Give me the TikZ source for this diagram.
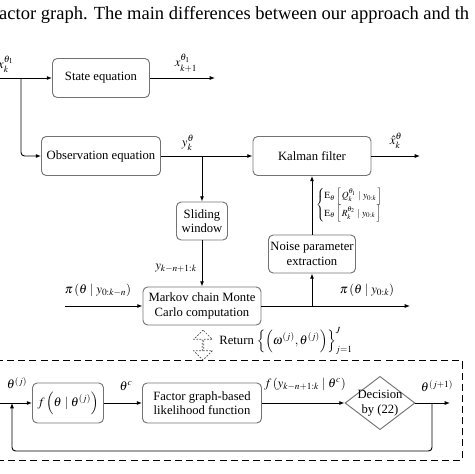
\documentclass[tikz,border=0pt]{standalone}
\usepackage{amsmath}
\usepackage{amssymb}
\usepackage{mathptmx}
\usepackage[no-math]{fontspec}
\setmainfont{Liberation Serif}
\usetikzlibrary{shapes.geometric,shapes.arrows,arrows.meta}

\begin{document}
\begin{tikzpicture}[x=0.03cm, y=-0.03cm, >={Latex[length=4.5pt,width=3.5pt]},
    font=\fontsize{10.8}{12.5}\selectfont]
    \tikzset{Block/.style={draw=black!55, line width=0.8pt, rounded corners=4pt, align=center, inner sep=1pt},
      Line/.style={line width=0.8pt}}
    \useasboundingbox (0,0) rectangle (474,474);
    \node[anchor=base west, inner sep=0, font=\fontsize{15.8}{17}\selectfont] (caption) at (-1,19) {actor graph. The main differences between our approach and th};
    \node[Block, minimum width=2.91cm, minimum height=1.17cm] (state) at (101,78) {State equation};
    \node[Block, minimum width=3.57cm, minimum height=1.17cm] (obs) at (101,156) {Observation equation};
    \node[Block, minimum width=3.54cm, minimum height=1.17cm] (kalman) at (312,156) {Kalman filter};
    \node[Block, minimum width=1.53cm, minimum height=1.14cm] (slide) at (202,221) {Sliding\\window};
    \node[Block, minimum width=2.61cm, minimum height=1.14cm] (noise) at (312,254) {Noise parameter\\extraction};
    \node[Block, minimum width=3.54cm, minimum height=1.14cm] (mcmc) at (202,306) {Markov chain Monte\\Carlo computation};
    \node[Block, minimum width=2.13cm, minimum height=1.2cm] (prop) at (68,403) {$f\left(\theta\mid\theta^{(j)}\right)$};
    \node[Block, minimum width=3.57cm, minimum height=1.2cm] (lik) at (202,403) {Factor graph-based\\likelihood function};
    \node[draw=black!55, line width=0.8pt, diamond, minimum width=2.1cm, minimum height=1.6cm, inner sep=0] (dec) at (380,403) {};
    \node[align=center, inner sep=0] (dectext) at (dec) {Decision\\by (22)};
    \node[draw=black, line width=0.8pt, dash pattern=on 6pt off 3.5pt, minimum width=13.95cm, minimum height=3cm, inner sep=0] (frame) at (229.5,410) {};
    \node[draw=black!70, line width=0.6pt, dash pattern=on 1.5pt off 1.2pt, double arrow, shape border rotate=90, minimum height=0.9cm, minimum width=0.56cm, double arrow head extend=0.14cm, inner sep=0] (ret) at (203,345) {};

    \coordinate (xin) at (0,78);
    \coordinate (br1) at (21,78);
    \coordinate (xout) at (215,78);
    \coordinate (br2) at (202,156);
    \coordinate (xhat) at (420,156);
    \coordinate (pin) at (65,306);
    \coordinate (br3) at (312,306);
    \coordinate (pout) at (410,306);
    \coordinate (fin) at (0,403);
    \coordinate (fb2) at (12,403);
    \coordinate (fb1) at (432,403);
    \coordinate (fbL) at (12,451);
    \coordinate (fout) at (450,403);

    \draw[Line,->] (xin) -- (state.west);
    \draw[Line,->,rounded corners=3pt] (br1) |- (obs.west);
    \draw[Line,->] (state.east) -- (xout);
    \draw[Line,->] (obs.east) -- (kalman.west);
    \draw[Line,->] (br2) -- (slide.north);
    \draw[Line,->] (kalman.east) -- (xhat);
    \draw[Line,->] (slide.south) -- (mcmc.north);
    \draw[Line,->] (pin) -- (mcmc.west);
    \draw[Line,->] (mcmc.east) -- (pout);
    \draw[Line,->] (br3) -- (noise.south);
    \draw[Line,->] (noise.north) -- (kalman.south);
    \draw[Line,->] (fin) -- (prop.west);
    \draw[Line,->] (prop.east) -- (lik.west);
    \draw[Line,->] (lik.east) -- (dec.west);
    \draw[Line,->] (dec.east) -- (fout);
    \draw[Line,->,rounded corners=3pt] (fb1) |- (fbL) -- (fb2);

    \node (lxk) at (6,64) {$x_k^{\theta_1}$};
    \node (lxk1) at (186,63) {$x_{k+1}^{\theta_1}$};
    \node (lyk) at (188,143) {$y_k^{\theta}$};
    \node (lxhat) at (396,141) {$\hat{x}_k^{\theta}$};
    \node[anchor=west, font=\footnotesize] (lexp) at (312,205) {$\left\{\begin{array}{@{}l@{}}\mathrm{E}_\theta\left[\,Q_k^{\theta_1}\mid y_{0:k}\,\right]\\[3pt]\mathrm{E}_\theta\left[\,R_k^{\theta_2}\mid y_{0:k}\,\right]\end{array}\right.$};
    \node (lywin) at (176,268) {$y_{k-n+1:k}$};
    \node (lpin) at (98,290) {$\pi\left(\theta\mid y_{0:k-n}\right)$};
    \node (lpout) at (367,290) {$\pi\left(\theta\mid y_{0:k}\right)$};
    \node (lret) at (286,341) {Return $\left\{\left(\omega^{(j)},\theta^{(j)}\right)\right\}_{j=1}^{J}$};
    \node (lthj) at (17,383) {$\theta^{(j)}$};
    \node (lthc) at (126,386) {$\theta^{c}$};
    \node (lfy) at (305,384) {$f\left(y_{k-n+1:k}\mid\theta^{c}\right)$};
    \node (lthj1) at (437,386) {$\theta^{(j+1)}$};
\end{tikzpicture}
\end{document}
